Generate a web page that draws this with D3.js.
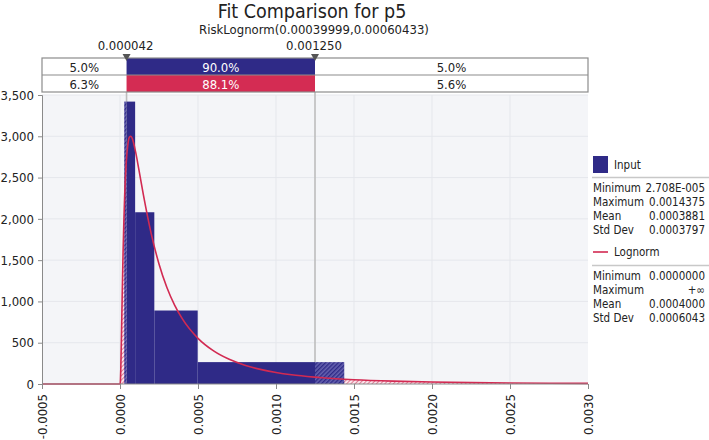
<!DOCTYPE html>
<html>
<head>
<meta charset="utf-8">
<script src="https://cdn.jsdelivr.net/npm/d3@7/dist/d3.min.js"></script>
<style>
  html, body { margin: 0; padding: 0; background: #ffffff; }
  svg { display: block; font-family: "DejaVu Sans Condensed", "DejaVu Sans", sans-serif; }
</style>
</head>
<body>
<svg id="chart" width="709" height="440"></svg>
<script>
// ---------------- data ----------------
const titleText = "Fit Comparison for p5";
const subtitleText = "RiskLognorm(0.00039999,0.00060433)";
const xTicks = [-0.0005, 0, 0.0005, 0.0010, 0.0015, 0.0020, 0.0025, 0.0030];
const xTickLabels = ["-0.0005", "0.0000", "0.0005", "0.0010", "0.0015", "0.0020", "0.0025", "0.0030"];
const yTicks = [0, 500, 1000, 1500, 2000, 2500, 3000, 3500];
const yTickLabels = ["0", "500", "1,000", "1,500", "2,000", "2,500", "3,000", "3,500"];

// histogram of the input (density)
const binEdges = [0.0000271, 0.000097, 0.000220, 0.000498, 0.0014375];
const binDensity = [3420, 2080, 890, 265];

// fitted lognormal curve
const curveX = [-0.0005, 0, 0.000002, 0.000003, 0.000005, 0.00001, 0.000015, 0.00002, 0.000025, 0.00003,
  0.00004, 0.00005, 0.00006, 0.00007, 0.00008, 0.0001, 0.00012, 0.00015, 0.0002, 0.00025, 0.0003,
  0.00035, 0.0004, 0.0005, 0.0006, 0.0007, 0.0008, 0.0009, 0.0010, 0.0011, 0.00125, 0.0013, 0.0015,
  0.00175, 0.0020, 0.00225, 0.0025, 0.00275, 0.0030];
const curveY = [0, 0, 17, 52, 175, 652, 1165, 1619, 1989, 2285,
  2681, 2894, 2988, 3001, 2966, 2811, 2608, 2291, 1822, 1454, 1172,
  956, 788, 553, 401, 299, 228, 177, 140, 112, 83, 75, 52,
  34.5, 23.7, 16.8, 12.3, 9.2, 7.0];

// delimiters
const markerValues = [0.000042, 0.00125];
const markerLabels = ["0.000042", "0.001250"];
const inputPct = ["5.0%", "90.0%", "5.0%"];
const fitPct = ["6.3%", "88.1%", "5.6%"];

// legend
const inputStatNames = ["Minimum", "Maximum", "Mean", "Std Dev"];
const inputStatValues = ["2.708E-005", "0.0014375", "0.0003881", "0.0003797"];
const fitStatNames = ["Minimum", "Maximum", "Mean", "Std Dev"];
const fitStatValues = ["0.0000000", "+\u221E", "0.0004000", "0.0006043"];

// ---------------- styles ----------------
const NAVY = "#2f2a87";
const RED = "#d42c53";
const CURVE = "#d22a52";
const GRID = "#e5e7ec";
const PLOTBG = "#f4f5f8";
const AXIS = "#8a8a8a";
const FONT = "DejaVu Sans Condensed, DejaVu Sans, sans-serif";

const svg = d3.select("#chart");
const plot = { left: 42, right: 588, top: 95, bottom: 384 };

const x = d3.scaleLinear().domain([-0.0005, 0.003]).range([plot.left, plot.right]);
const y = d3.scaleLinear().domain([0, 3500]).range([plot.bottom, plot.top]);

// patterns
const defs = svg.append("defs");
const pb = defs.append("pattern").attr("id", "hatchBlue").attr("patternUnits", "userSpaceOnUse")
  .attr("width", 3).attr("height", 3).attr("patternTransform", "rotate(45)");
pb.append("rect").attr("width", 3).attr("height", 3).attr("fill", "#6662b0");
pb.append("rect").attr("width", 1.4).attr("height", 3).attr("fill", "#2f2a87");
const pr = defs.append("pattern").attr("id", "hatchRed").attr("patternUnits", "userSpaceOnUse")
  .attr("width", 3).attr("height", 3).attr("patternTransform", "rotate(45)");
pr.append("rect").attr("width", 3).attr("height", 3).attr("fill", "#fbe6ec");
pr.append("rect").attr("width", 1).attr("height", 3).attr("fill", "#e07c95");

// clip regions outside / inside the delimiters
const clipOut = defs.append("clipPath").attr("id", "clipOut");
clipOut.append("rect").attr("x", plot.left).attr("y", plot.top)
  .attr("width", x(markerValues[0]) - plot.left).attr("height", plot.bottom - plot.top);
clipOut.append("rect").attr("x", x(markerValues[1])).attr("y", plot.top)
  .attr("width", plot.right - x(markerValues[1])).attr("height", plot.bottom - plot.top);
const clipIn = defs.append("clipPath").attr("id", "clipIn");
clipIn.append("rect").attr("x", x(markerValues[0])).attr("y", plot.top - 5)
  .attr("width", x(markerValues[1]) - x(markerValues[0])).attr("height", plot.bottom - plot.top + 5);

// ---------------- title ----------------
svg.append("text").attr("x", 312).attr("y", 18).attr("text-anchor", "middle")
  .attr("font-size", 19.5).attr("fill", "#222").text(titleText);
svg.append("text").attr("x", 314).attr("y", 34).attr("text-anchor", "middle")
  .attr("font-size", 13).attr("fill", "#222").text(subtitleText);

// ---------------- plot background & grid ----------------
svg.append("rect").attr("x", plot.left).attr("y", plot.top)
  .attr("width", plot.right - plot.left).attr("height", plot.bottom - plot.top).attr("fill", PLOTBG);

svg.append("g").selectAll("line").data(xTicks.slice(1, -1)).join("line")
  .attr("x1", d => x(d)).attr("x2", d => x(d)).attr("y1", plot.top).attr("y2", plot.bottom)
  .attr("stroke", GRID).attr("stroke-width", 1);
svg.append("g").selectAll("line").data(yTicks.slice(1)).join("line")
  .attr("x1", plot.left).attr("x2", plot.right).attr("y1", d => y(d)).attr("y2", d => y(d))
  .attr("stroke", GRID).attr("stroke-width", 1);

// delimiter lines
svg.append("g").selectAll("line").data(markerValues).join("line")
  .attr("x1", d => x(d)).attr("x2", d => x(d)).attr("y1", 92).attr("y2", plot.bottom)
  .attr("stroke", "#bdbdbd").attr("stroke-width", 1.6);

// ---------------- fitted curve hatched tails ----------------
const pts = curveX.map((d, i) => [d, curveY[i]]);
const area = d3.area().x(d => x(d[0])).y0(y(0)).y1(d => y(d[1])).curve(d3.curveMonotoneX);
const line = d3.line().x(d => x(d[0])).y(d => y(d[1])).curve(d3.curveMonotoneX);
svg.append("path").datum(pts).attr("clip-path", "url(#clipOut)").attr("d", area)
  .attr("fill", "url(#hatchRed)");

// ---------------- histogram ----------------
const bins = binDensity.map((v, i) => ({ x0: binEdges[i], x1: binEdges[i + 1], v }));
svg.append("g").attr("clip-path", "url(#clipIn)").selectAll("rect").data(bins).join("rect")
  .attr("x", d => x(d.x0)).attr("width", d => x(d.x1) - x(d.x0))
  .attr("y", d => y(d.v)).attr("height", d => y(0) - y(d.v)).attr("fill", NAVY);
svg.append("g").attr("clip-path", "url(#clipOut)").selectAll("rect").data(bins).join("rect")
  .attr("x", d => x(d.x0)).attr("width", d => x(d.x1) - x(d.x0))
  .attr("y", d => y(d.v)).attr("height", d => y(0) - y(d.v)).attr("fill", "url(#hatchBlue)");

// curve line
svg.append("path").datum(pts).attr("d", line)
  .attr("fill", "none").attr("stroke", CURVE).attr("stroke-width", 1.6);

// ---------------- axes ----------------
const yAxis = d3.axisLeft(y).tickValues(yTicks).tickSize(4).tickFormat((d, i) => yTickLabels[i]);
const gy = svg.append("g").attr("transform", `translate(${plot.left},0)`).call(yAxis);
gy.select(".domain").attr("stroke", AXIS);
gy.selectAll(".tick line").attr("stroke", AXIS);
gy.selectAll(".tick text").attr("font-size", 13).attr("fill", "#222")
  .attr("font-family", FONT).attr("x", -8);

const xAxis = d3.axisBottom(x).tickValues(xTicks).tickSize(5).tickFormat((d, i) => xTickLabels[i]);
const gx = svg.append("g").attr("transform", `translate(0,${plot.bottom})`).call(xAxis);
gx.select(".domain").attr("stroke", AXIS).attr("d", `M${plot.left},0H${plot.right}`);
gx.selectAll(".tick line").attr("stroke", AXIS);
gx.selectAll(".tick text").attr("font-size", 13).attr("fill", "#222")
  .attr("font-family", FONT)
  .attr("transform", "rotate(-90)").attr("text-anchor", "end")
  .attr("x", -10).attr("y", 0).attr("dy", "0.36em");

// ---------------- delimiter box ----------------
const boxTop = 58, rowH = 17;
const sections = [plot.left, x(markerValues[0]), x(markerValues[1]), plot.right];
const rows = [inputPct, fitPct];
const rowFill = [NAVY, RED];
rows.forEach((vals, r) => {
  const yTop = boxTop + r * rowH;
  svg.append("rect").attr("x", sections[1]).attr("y", yTop)
    .attr("width", sections[2] - sections[1]).attr("height", rowH).attr("fill", rowFill[r]);
  vals.forEach((v, i) => {
    svg.append("text").attr("x", (sections[i] + sections[i + 1]) / 2).attr("y", yTop + 13.5)
      .attr("text-anchor", "middle").attr("font-size", 13)
      .attr("fill", i === 1 ? "#ffffff" : "#222").text(v);
  });
});
svg.append("rect").attr("x", plot.left).attr("y", boxTop).attr("width", plot.right - plot.left)
  .attr("height", rowH * 2).attr("fill", "none").attr("stroke", "#8c8c8c").attr("stroke-width", 1.2);
svg.append("line").attr("x1", plot.left).attr("x2", plot.right).attr("y1", boxTop + rowH).attr("y2", boxTop + rowH)
  .attr("stroke", "#8c8c8c").attr("stroke-width", 1.2);

// markers
markerValues.forEach((m, i) => {
  const mx = x(m);
  svg.append("path").attr("d", `M${mx - 4},54 L${mx + 4},54 L${mx},61 Z`).attr("fill", "#555");
  svg.append("text").attr("x", mx - 1).attr("y", 49.5).attr("text-anchor", "middle")
    .attr("font-size", 13).attr("fill", "#222").text(markerLabels[i]);
});

// ---------------- legend ----------------
const lg = svg.append("g");
const lx = 593, rx = 705, LFS = 11.5;
lg.append("rect").attr("x", lx).attr("y", 156).attr("width", 15).attr("height", 17).attr("fill", NAVY);
lg.append("text").attr("x", 614).attr("y", 168.5).attr("font-size", LFS).attr("fill", "#222").text("Input");
lg.append("line").attr("x1", 592).attr("x2", 709).attr("y1", 177.5).attr("y2", 177.5)
  .attr("stroke", "#c8c8c8").attr("stroke-width", 1.5);
inputStatNames.forEach((n, i) => {
  lg.append("text").attr("x", lx).attr("y", 192 + i * 14).attr("font-size", LFS).attr("fill", "#222").text(n);
  lg.append("text").attr("x", rx).attr("y", 192 + i * 14).attr("font-size", LFS).attr("fill", "#222")
    .attr("text-anchor", "end").text(inputStatValues[i]);
});
lg.append("line").attr("x1", lx).attr("x2", 608).attr("y1", 252).attr("y2", 252)
  .attr("stroke", CURVE).attr("stroke-width", 1.6);
lg.append("text").attr("x", 614).attr("y", 256).attr("font-size", LFS).attr("fill", "#222").text("Lognorm");
lg.append("line").attr("x1", 592).attr("x2", 709).attr("y1", 265.5).attr("y2", 265.5)
  .attr("stroke", "#c8c8c8").attr("stroke-width", 1.5);
fitStatNames.forEach((n, i) => {
  lg.append("text").attr("x", lx).attr("y", 279.5 + i * 14).attr("font-size", LFS).attr("fill", "#222").text(n);
  lg.append("text").attr("x", rx).attr("y", 279.5 + i * 14).attr("font-size", LFS).attr("fill", "#222")
    .attr("text-anchor", "end").text(fitStatValues[i]);
});
</script>
</body>
</html>
